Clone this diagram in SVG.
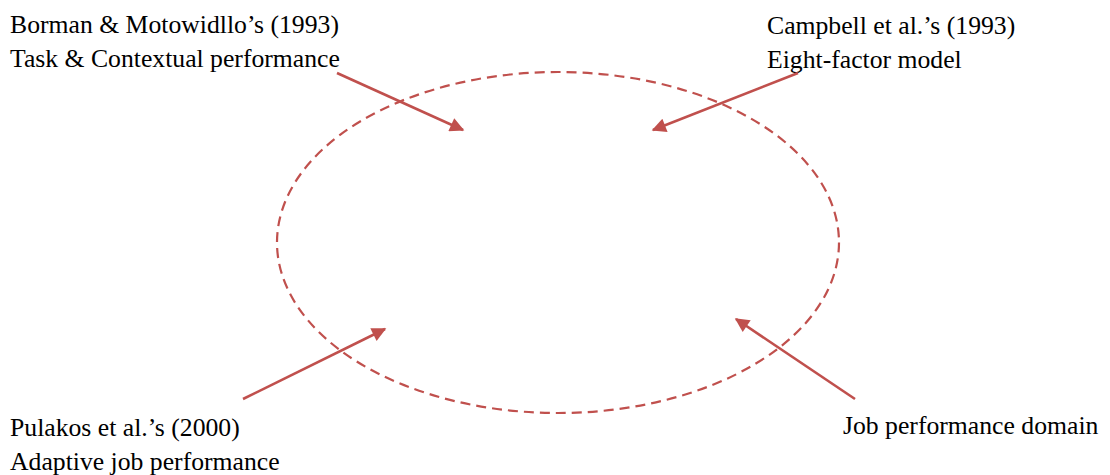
<svg xmlns="http://www.w3.org/2000/svg" width="1110" height="475" viewBox="0 0 1110 475">
  <style>
    .label { font-family: "Liberation Serif", Tinos, "Times New Roman", Times, "Noto Serif", "DejaVu Serif", serif; font-size: 25.7px; fill: #000; }
    .domain { fill: none; stroke: #C0504D; stroke-width: 2.2; stroke-dasharray: 10 6; }
    .link { fill: none; stroke: #C0504D; stroke-width: 2.6; marker-end: url(#head); }
  </style>
  <defs>
    <marker id="head" viewBox="0 0 10 10" refX="9" refY="5" markerWidth="6.5" markerHeight="5.5" markerUnits="strokeWidth" orient="auto">
      <path d="M0,0 L10,5 L0,10 Z" fill="#C0504D"/>
    </marker>
  </defs>

  <rect width="1110" height="475" fill="#fff"/>

  <!-- job performance domain -->
  <g id="domain">
    <ellipse class="domain" cx="558" cy="242.5" rx="281" ry="170.5"/>
  </g>

  <g id="borman" font-family="Liberation Serif, serif">
    <text class="label" x="10" y="33">Borman &amp; Motowidllo’s (1993)</text>
    <text class="label" x="10" y="67">Task &amp; Contextual performance</text>
  </g>

  <g id="campbell">
    <text class="label" x="767" y="34">Campbell et al.’s (1993)</text>
    <text class="label" x="767" y="68">Eight-factor model</text>
  </g>

  <g id="pulakos">
    <text class="label" x="10" y="436">Pulakos et al.’s (2000)</text>
    <text class="label" x="10" y="470">Adaptive job performance</text>
  </g>

  <g id="domain-label">
    <text class="label" x="843" y="434">Job performance domain</text>
  </g>

  <g id="connectors">
    <line class="link" x1="337" y1="73" x2="463" y2="130"/>
    <line class="link" x1="798" y1="73" x2="653" y2="130"/>
    <line class="link" x1="243" y1="399" x2="385" y2="329"/>
    <line class="link" x1="855" y1="399" x2="736" y2="319"/>
  </g>
</svg>
